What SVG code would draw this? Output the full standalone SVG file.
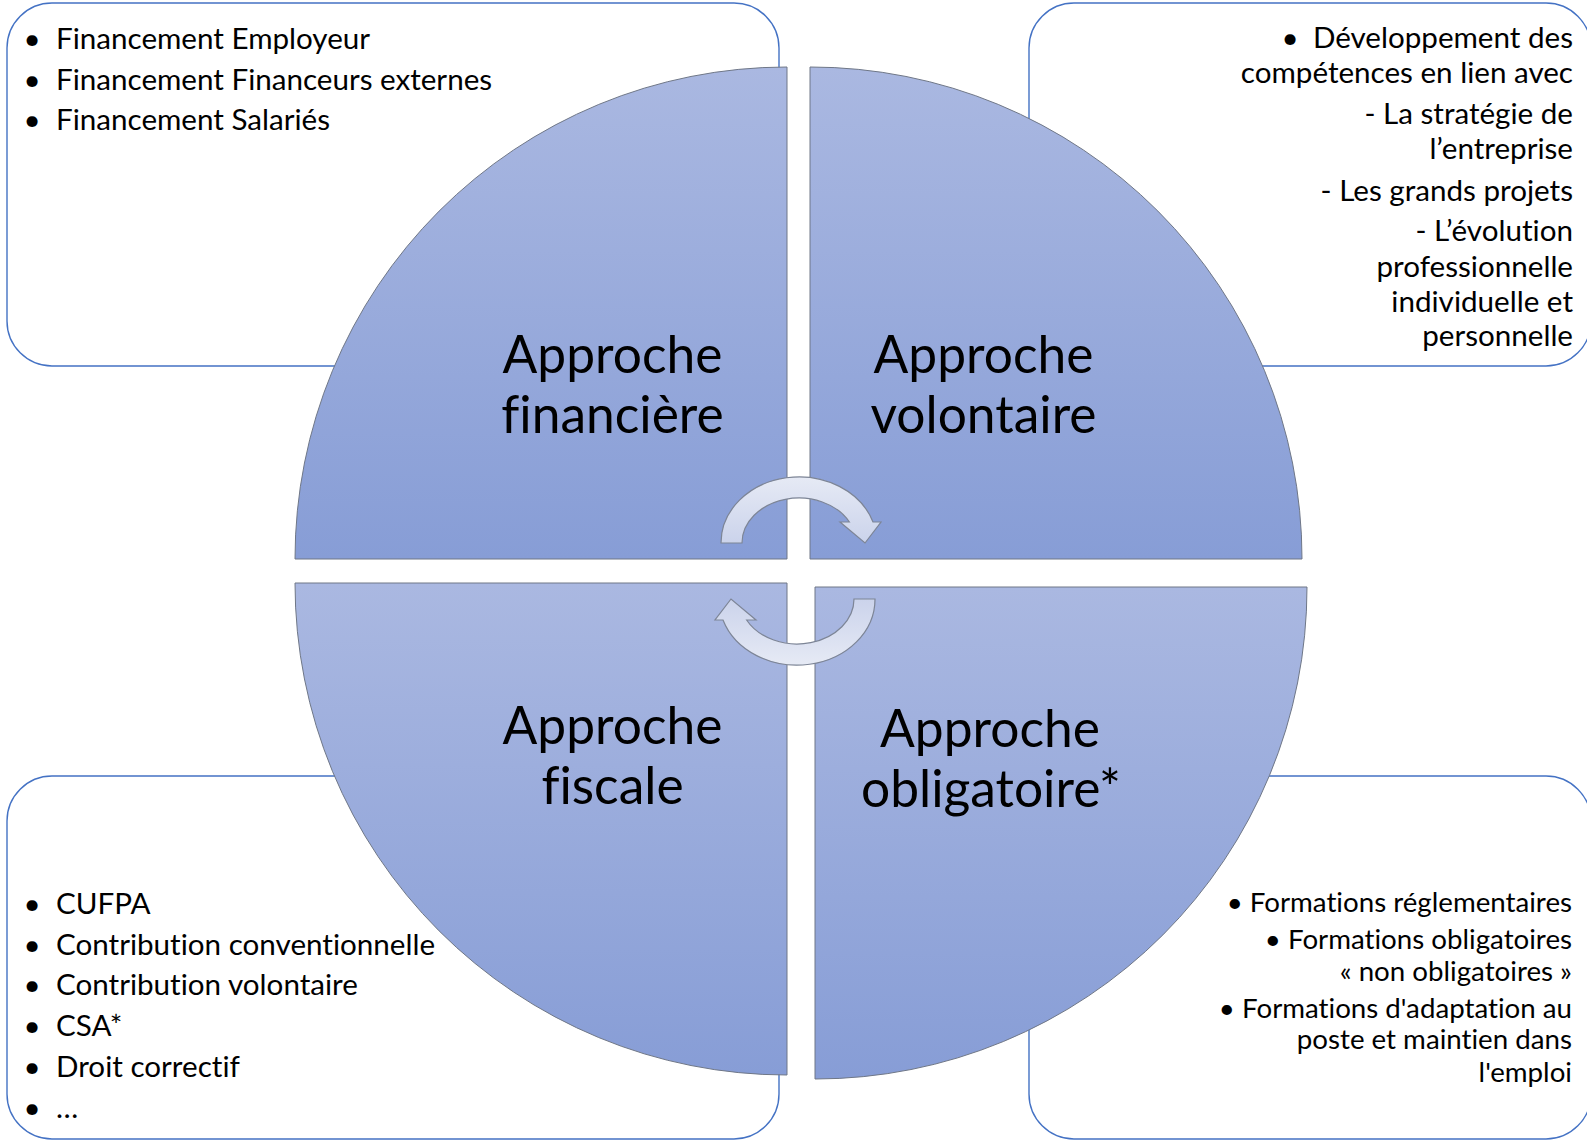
<svg xmlns="http://www.w3.org/2000/svg" width="1587" height="1141" viewBox="0 0 1587 1141">
<defs>
<linearGradient id="qfill" x1="0" y1="0" x2="0" y2="1">
<stop offset="0" stop-color="#aab8e1"/>
<stop offset="1" stop-color="#879dd6"/>
</linearGradient>
<linearGradient id="afill" x1="0" y1="0" x2="0" y2="1">
<stop offset="0" stop-color="#e6eaf5"/>
<stop offset="1" stop-color="#cbd3eb"/>
</linearGradient>
<style>
.box{fill:#ffffff;stroke:#4472c4;stroke-width:1.4}
.quad{fill:url(#qfill);stroke:#6f7787;stroke-width:1}
.arrow{fill:url(#afill);stroke:#7d8596;stroke-width:1.2}
text{font-family:Lato,"Liberation Sans",sans-serif;fill:#000;font-variant-ligatures:none}
.lbl{font-size:51.5px;text-anchor:middle}
.b{font-size:29.6px}
.bs{font-size:27.7px}
.r{text-anchor:end}
.m{text-anchor:middle}
</style>
</defs>
<g id="box-financiere">
<rect class="box" x="7" y="3" width="772" height="363" rx="45"/>
<text class="b m" x="32" y="48.5">•</text><text class="b" x="56" y="48.5">Financement Employeur</text>
<text class="b m" x="32" y="89.5">•</text><text class="b" x="56" y="89.5">Financement Financeurs externes</text>
<text class="b m" x="32" y="129.5">•</text><text class="b" x="56" y="129.5">Financement Salariés</text>
</g>
<g id="box-volontaire">
<rect class="box" x="1029" y="3" width="562" height="363" rx="45"/>
<text class="b m" x="1290" y="47.5">•</text><text class="b r" x="1573" y="47.5">Développement des</text>
<text class="b r" x="1573" y="83">compétences en lien avec</text>
<text class="b r" x="1573" y="123.5">- La stratégie de</text>
<text class="b r" x="1573" y="159">l’entreprise</text>
<text class="b r" x="1573" y="200.5">- Les grands projets</text>
<text class="b r" x="1573" y="241">- L’évolution</text>
<text class="b r" x="1573" y="276.5">professionnelle</text>
<text class="b r" x="1573" y="311.5">individuelle et</text>
<text class="b r" x="1573" y="346">personnelle</text>
</g>
<g id="box-fiscale">
<rect class="box" x="7" y="776" width="772" height="363" rx="45"/>
<text class="b m" x="32" y="913.5">•</text><text class="b" x="56" y="913.5">CUFPA</text>
<text class="b m" x="32" y="954.5">•</text><text class="b" x="56" y="954.5">Contribution conventionnelle</text>
<text class="b m" x="32" y="994.5">•</text><text class="b" x="56" y="994.5">Contribution volontaire</text>
<text class="b m" x="32" y="1035.5">•</text><text class="b" x="56" y="1035.5">CSA*</text>
<text class="b m" x="32" y="1076.5">•</text><text class="b" x="56" y="1076.5">Droit correctif</text>
<text class="b m" x="32" y="1117.5">•</text><text class="b" x="56" y="1117.5">…</text>
</g>
<g id="box-obligatoire">
<rect class="box" x="1029" y="776" width="562" height="363" rx="45"/>
<text class="bs r" x="1572" y="911.5">• Formations réglementaires</text>
<text class="bs r" x="1572" y="948.5">• Formations obligatoires</text>
<text class="bs r" x="1572" y="980.5">« non obligatoires »</text>
<text class="bs r" x="1572" y="1017.5">• Formations d'adaptation au</text>
<text class="bs r" x="1572" y="1048.5">poste et maintien dans</text>
<text class="bs r" x="1572" y="1081.5">l'emploi</text>
</g>
<g id="quad-financiere">
<path class="quad" d="M787,559 L295,559 A492,492 0 0 1 787,67 Z"/>
<text class="lbl" x="612.5" y="373">Approche</text>
<text class="lbl" x="612.5" y="433">financière</text>
</g>
<g id="quad-volontaire">
<path class="quad" d="M810,559 L810,67 A492,492 0 0 1 1302,559 Z"/>
<text class="lbl" x="983.5" y="373">Approche</text>
<text class="lbl" x="983.5" y="433">volontaire</text>
</g>
<g id="quad-fiscale">
<path class="quad" d="M787,583 L787,1075 A492,492 0 0 1 295,583 Z"/>
<text class="lbl" x="612.5" y="744">Approche</text>
<text class="lbl" x="612.5" y="804">fiscale</text>
</g>
<g id="quad-obligatoire">
<path class="quad" d="M815,587 L1307,587 A492,492 0 0 1 815,1079 Z"/>
<text class="lbl" x="990" y="747">Approche</text>
<text class="lbl" x="991" y="807">obligatoire*</text>
</g>
<g id="connectors">
<path class="arrow" d="M721,543 A78,66 0 0 1 873,522 L881,522 L865,543 L840,522 L849.4,522 A57,45 0 0 0 742,543 Z"/>
<path class="arrow" transform="rotate(180 798 571)" d="M721,543 A78,66 0 0 1 873,522 L881,522 L865,543 L840,522 L849.4,522 A57,45 0 0 0 742,543 Z"/>
</g>
</svg>
